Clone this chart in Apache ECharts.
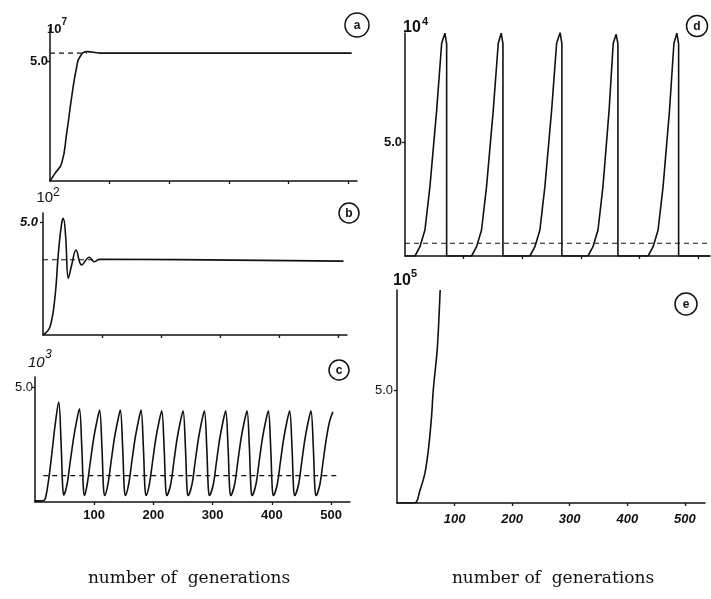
<!DOCTYPE html>
<html>
<head>
<meta charset="utf-8">
<script src="https://cdn.jsdelivr.net/npm/echarts@6/dist/echarts.min.js"></script>
<style>
  html, body { margin: 0; background: #fff; }
  #chart { width: 711px; height: 599px; }
</style>
</head>
<body>
<div id="chart"></div>
<script>
// Values: x = generation, y = population (units of 10^n)

// (a) logistic rise to a plateau
var curveA = [[0, 0], [8.4, 0.32], [19.6, 0.74], [28, 1.99], [36.4, 3.51], [44.8, 4.76],
  [50.3, 5.18], [62.6, 5.39], [84, 5.33], [506, 5.33]];
var eqA = [[0, 5.33], [62, 5.33]];

// (b) damped oscillation
var curveB = [[0, 0], [11.9, 0.37], [20.3, 1.69], [26, 3.61], [31.6, 4.94], [34.5, 5.16],
  [38.4, 4.35], [42.9, 2.51], [48.6, 3.1], [55.9, 3.76], [65.5, 3.1], [78.5, 3.44],
  [87, 3.24], [95.5, 3.35], [509, 3.27]];
var eqB = [[0, 3.33], [97, 3.33]];

// (c) stable limit cycle
var curveC = [[0, 0.05], [12, 0.05], [17, 0.12], [22.5, 0.88], [28, 2.0], [34, 3.35], [40, 4.35], [44, 2.6], [46.5, 0.8], [48.5, 0.3],
  [54, 0.75], [59.5, 1.75], [65, 2.75], [70.5, 3.55], [75, 4.05], [79, 2.4], [81.5, 0.7], [83.5, 0.28],
  [88, 0.75], [93.5, 1.75], [99, 2.75], [104.5, 3.5], [109, 4.0], [113, 2.4], [115.5, 0.7], [117.5, 0.28],
  [123, 0.75], [128.5, 1.75], [134, 2.75], [139.5, 3.5], [144, 4.0], [148, 2.4], [150.5, 0.7], [152.5, 0.28],
  [158, 0.75], [163.5, 1.75], [169, 2.75], [174.5, 3.5], [179, 4.0], [183, 2.4], [185.5, 0.7], [187.5, 0.28],
  [193, 0.75], [198.5, 1.75], [204, 2.75], [209.5, 3.5], [214, 3.96], [218, 2.4], [220.5, 0.7], [222.5, 0.28],
  [229, 0.75], [234.5, 1.75], [240, 2.75], [245.5, 3.5], [250, 3.97], [254, 2.4], [256.5, 0.7], [258.5, 0.28],
  [265, 0.75], [270.5, 1.75], [276, 2.75], [281.5, 3.5], [286, 3.96], [290, 2.4], [292.5, 0.7], [294.5, 0.28],
  [301, 0.75], [306.5, 1.75], [312, 2.75], [317.5, 3.5], [322, 3.96], [326, 2.4], [328.5, 0.7], [330.5, 0.28],
  [337, 0.75], [342.5, 1.75], [348, 2.75], [353.5, 3.5], [358, 3.96], [362, 2.4], [364.5, 0.7], [366.5, 0.28],
  [373, 0.75], [378.5, 1.75], [384, 2.75], [389.5, 3.5], [394, 3.96], [398, 2.4], [400.5, 0.7], [402.5, 0.28],
  [409, 0.75], [414.5, 1.75], [420, 2.75], [425.5, 3.5], [430, 3.96], [434, 2.4], [436.5, 0.7], [438.5, 0.28],
  [445, 0.75], [450.5, 1.75], [456, 2.75], [461.5, 3.5], [466, 3.96], [470, 2.4], [472.5, 0.7], [474.5, 0.28],
  [481, 0.75], [486.5, 1.75], [492, 2.75], [497.5, 3.5], [503, 3.92]];
var eqC = [[14, 1.15], [515, 1.15]];

// (d) outbreaks followed by crashes
var curveD = [[0, 0], [17, 0], [25.5, 0.41], [34, 1.14], [42.5, 3.04], [54, 6.4], [62.5, 9.33], [68, 9.77], [71, 9.3], [71, 0],
  [113.5, 0], [122, 0.41], [130.5, 1.14], [139, 3.04], [150.5, 6.4], [159, 9.33], [164, 9.77], [167, 9.3], [167, 0],
  [213, 0], [221.5, 0.41], [230, 1.14], [238.5, 3.04], [250, 6.4], [258.5, 9.33], [264.5, 9.8], [267.5, 9.3], [267.5, 0],
  [312, 0], [320.5, 0.41], [329, 1.14], [337.5, 3.04], [348, 6.4], [355, 9.33], [360, 9.72], [363, 9.3], [363, 0],
  [414.5, 0], [423, 0.41], [431.5, 1.14], [440, 3.04], [451, 6.4], [458.5, 9.33], [463.5, 9.77], [466.5, 9.3], [466.5, 0],
  [520, 0]];
var eqD = [[0, 0.56], [520, 0.56]];

// (e) unbounded growth
var curveE = [[0, 0], [31, 0], [40, 0.57], [48.5, 1.32], [54.5, 2.35], [60, 3.82], [63, 5.0], [70, 6.84], [75, 9.42]];

var panelNames = ['a', 'b', 'c', 'd', 'e'];
var exponents = ['7', '2', '3', '4', '5'];
var xTickValues = [100, 200, 300, 400, 500];
var yTickValues = [5];
var xTitle = 'number of  generations';

var ink = '#111';
var chart = echarts.init(document.getElementById('chart'));

// pixel layout of the five panels
var panels = [
  { left: 50, top: 28, width: 307, height: 153, xMax: 515, yMax: 6.375, xLabels: null,
    yFont: { fontWeight: 'bold', fontStyle: 'normal' }, yMargin: 2,
    pow: [47, 29, 61.5, 22], powFont: 'bold 13px', expFont: 'bold 10px', circle: [357, 25, 12] },
  { left: 43, top: 213, width: 304, height: 122, xMax: 515, yMax: 5.4, xLabels: null,
    yFont: { fontWeight: 'bold', fontStyle: 'italic' }, yMargin: 5,
    pow: [36.5, 197.5, 53, 193], powFont: '15px', expFont: '12px', circle: [349, 213, 10] },
  { left: 35, top: 377, width: 315, height: 125, xMax: 532, yMax: 5.435,
    xLabels: { fontWeight: 'bold', fontStyle: 'normal', margin: 7 },
    yFont: { fontWeight: 'normal', fontStyle: 'normal' }, yMargin: 2,
    pow: [28, 362.5, 45, 355], powFont: 'italic 15px', expFont: 'italic 12px', circle: [339, 370, 10] },
  { left: 405, top: 33, width: 305, height: 223, xMax: 520, yMax: 9.78, xLabels: null,
    yFont: { fontWeight: 'bold', fontStyle: 'normal' }, yMargin: 3,
    pow: [403, 28, 422, 22], powFont: 'bold 16px', expFont: 'bold 11px', circle: [697, 26, 10.5] },
  { left: 397, top: 290, width: 308, height: 213, xMax: 535, yMax: 9.42,
    xLabels: { fontWeight: 'bold', fontStyle: 'italic', margin: 10 },
    yFont: { fontWeight: 'normal', fontStyle: 'normal' }, yMargin: 4,
    pow: [393, 280.5, 411, 274], powFont: 'bold 16px', expFont: 'bold 11px', circle: [686, 304, 11] }
];

var curves = [curveA, curveB, curveC, curveD, curveE];
var levels = [eqA, eqB, eqC, eqD, null];
var smoothing = [0.5, 0.4, 0.35, false, 0.3];

var font = 'Liberation Sans';
var grids = [], xAxes = [], yAxes = [], series = [], graphics = [];

panels.forEach(function (p, i) {
  grids.push({ left: p.left, top: p.top, width: p.width, height: p.height });

  xAxes.push({
    gridIndex: i, type: 'value', min: 0, max: p.xMax,
    axisLine: { show: true, onZero: false, lineStyle: { color: ink, width: 1.5 } },
    axisTick: { show: true, customValues: xTickValues, length: 3, lineStyle: { color: ink, width: 1.3 } },
    axisLabel: p.xLabels ? {
      show: true, customValues: xTickValues, color: ink, fontFamily: font, fontSize: 13,
      fontWeight: p.xLabels.fontWeight, fontStyle: p.xLabels.fontStyle, margin: p.xLabels.margin
    } : { show: false },
    splitLine: { show: false }
  });

  yAxes.push({
    gridIndex: i, type: 'value', min: 0, max: p.yMax,
    axisLine: { show: true, onZero: false, lineStyle: { color: ink, width: 1.5 } },
    axisTick: { show: true, customValues: yTickValues, length: 3, lineStyle: { color: ink, width: 1.3 } },
    axisLabel: {
      show: true, customValues: yTickValues, color: ink, fontFamily: font, fontSize: 13,
      fontWeight: p.yFont.fontWeight, fontStyle: p.yFont.fontStyle, margin: p.yMargin,
      formatter: function (v) { return v.toFixed(1); }
    },
    splitLine: { show: false }
  });

  series.push({
    type: 'line', xAxisIndex: i, yAxisIndex: i, data: curves[i],
    symbol: 'none', smooth: smoothing[i],
    lineStyle: { color: ink, width: 1.6 }, silent: true
  });
  if (levels[i]) {
    series.push({
      type: 'line', xAxisIndex: i, yAxisIndex: i, data: levels[i],
      symbol: 'none', lineStyle: { color: ink, width: 1.2, type: [5, 4] }, silent: true
    });
  }

  // "10" with the exponent raised, at the top of each y axis
  graphics.push({
    type: 'text', x: p.pow[0], y: p.pow[1],
    style: { text: '10', fill: ink, font: p.powFont + ' "' + font + '"', verticalAlign: 'middle' }
  });
  graphics.push({
    type: 'text', x: p.pow[2], y: p.pow[3],
    style: { text: exponents[i], fill: ink, font: p.expFont + ' "' + font + '"', verticalAlign: 'middle' }
  });

  // circled panel letter
  graphics.push({
    type: 'circle', shape: { cx: p.circle[0], cy: p.circle[1], r: p.circle[2] },
    style: { fill: 'none', stroke: ink, lineWidth: 1.5 }
  });
  graphics.push({
    type: 'text', x: p.circle[0], y: p.circle[1] + 0.5,
    style: { text: panelNames[i], fill: ink, font: 'bold 12px "' + font + '"', align: 'center', verticalAlign: 'middle' }
  });
});

[189, 553].forEach(function (cx) {
  graphics.push({
    type: 'text', x: cx, y: 579,
    style: { text: xTitle, fill: ink, font: '17px "DejaVu Serif"', align: 'center', verticalAlign: 'middle' }
  });
});

chart.setOption({
  backgroundColor: '#fff',
  animation: false,
  grid: grids,
  xAxis: xAxes,
  yAxis: yAxes,
  series: series,
  graphic: graphics
});
</script>
</body>
</html>
